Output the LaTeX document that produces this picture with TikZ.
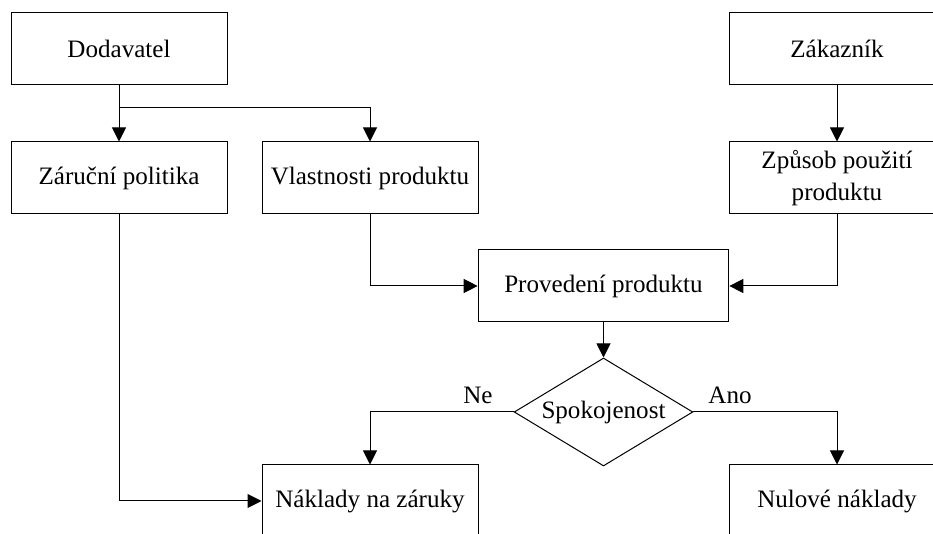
\documentclass[tikz,border=0pt]{standalone}
\usepackage{fontspec}
\setmainfont{Liberation Serif}
\usepackage{tikz}
\usetikzlibrary{arrows.meta,shapes.geometric}
\definecolor{linec}{HTML}{000000}

\begin{document}
\begin{tikzpicture}[x=0.75pt, y=-0.75pt,
  every node/.style={font=\fontsize{18.8}{23.5}\selectfont},
  box/.style={draw=linec, line width=0.75pt, minimum width=162pt, minimum height=54pt, inner sep=0pt, align=center},
  decision/.style={draw=linec, line width=0.75pt, diamond, aspect=1.66, minimum width=134pt, minimum height=81pt, inner sep=0pt},
  arr/.style={draw=linec, line width=0.75pt, -{Triangle[length=10.5pt, width=10.5pt]}}]
  \clip (0,0) rectangle (933,534);
  \node[box] (dod) at (119,49) {Dodavatel};
  \node[box] (zak) at (837,49) {Zákazník};
  \node[box] (zar) at (119,178) {Záruční politika};
  \node[box] (vla) at (370,178) {Vlastnosti produktu};
  \node[box] (zpu) at (837,178) {Způsob použití\\produktu};
  \node[box, minimum width=188pt] (pro) at (603.5,286) {Provedení produktu};
  \node[decision] (spo) at (603.5,412) {Spokojenost};
  \node[box] (nak) at (370,501) {Náklady na záruky};
  \node[box] (nul) at (837,501) {Nulové náklady};
  \node (ne) at (478,395) {Ne};
  \node (ano) at (730,395) {Ano};
  \coordinate (split) at (119,108);
  \draw[arr] (dod) -- (zar);
  \draw[arr] (split) -| (vla.north);
  \draw[arr] (zak) -- (zpu);
  \draw[arr] (vla.south) |- (pro.west);
  \draw[arr] (zpu.south) |- (pro.east);
  \draw[arr] (pro) -- (spo);
  \draw[arr] (spo.west) -| (nak.north);
  \draw[arr] (spo.east) -| (nul.north);
  \draw[arr] (zar.south) |- (nak.west);
\end{tikzpicture}
\end{document}
